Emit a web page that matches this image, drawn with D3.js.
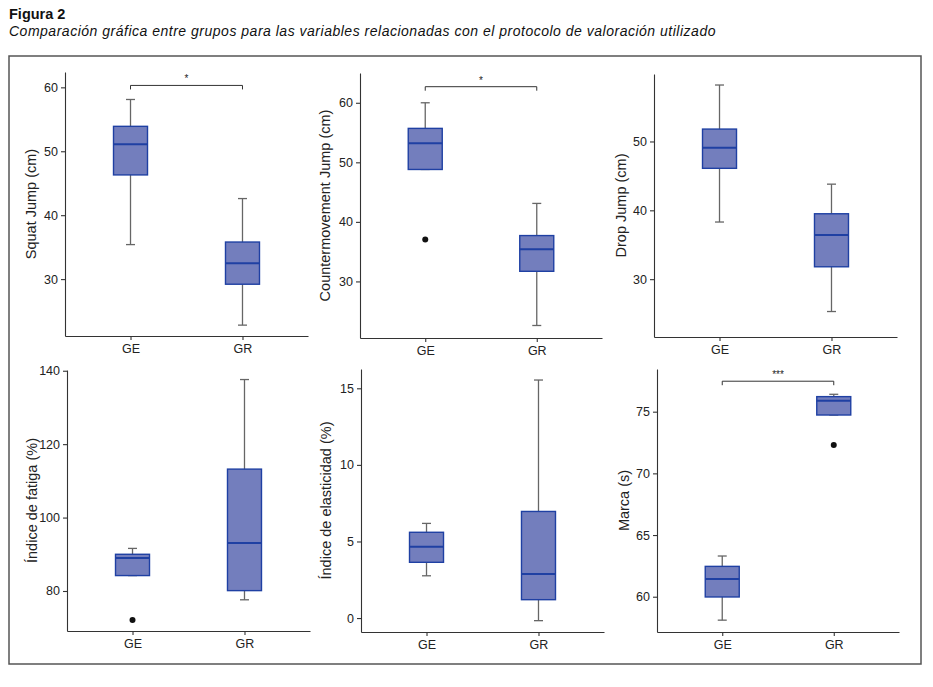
<!DOCTYPE html>
<html><head><meta charset="utf-8">
<script src="https://cdn.jsdelivr.net/npm/d3@7"></script>
<style>
body{margin:0;background:#fff;}
svg{font-family:"Liberation Sans",Arial,Helvetica,sans-serif;}
</style></head>
<body>
<svg id="c" width="933" height="687"></svg>
<script>
// ---- data ----
const groups = ["GE", "GR"];
// [low whisker, Q1, median, Q3, high whisker] per group
const squatJump = [[35.4, 46.3, 51.1, 53.9, 58.1], [22.8, 29.2, 32.5, 35.8, 42.6]];
const cmj = [[48.8, 48.8, 53.2, 55.7, 60.0], [22.6, 31.7, 35.4, 37.7, 43.1]];
const dropJump = [[38.3, 46.1, 49.1, 51.8, 58.2], [25.3, 31.8, 36.4, 39.5, 43.8]];
const fatiga = [[84.2, 84.2, 89.0, 90.0, 91.6], [77.6, 80.1, 93.1, 113.2, 137.6]];
const elasticidad = [[2.76, 3.64, 4.66, 5.6, 6.18], [-0.17, 1.2, 2.87, 6.96, 15.54]];
const marca = [[58.1, 59.98, 61.43, 62.46, 63.3], [74.73, 74.73, 75.89, 76.22, 76.41]];
// outliers: [groupIndex, value]
const cmjOutliers = [[0, 37.05]];
const fatigaOutliers = [[0, 72.1]];
const marcaOutliers = [[1, 72.3]];
const squatTicks = [30, 40, 50, 60];
const cmjTicks = [30, 40, 50, 60];
const dropTicks = [30, 40, 50];
const fatigaTicks = [80, 100, 120, 140];
const elastTicks = [0, 5, 10, 15];
const marcaTicks = [60, 65, 70, 75];
const yLabels = ["Squat Jump (cm)", "Countermovement Jump (cm)", "Drop Jump (cm)",
  "Índice de fatiga (%)", "Índice de elasticidad (%)", "Marca (s)"];
// significance: [value of bracket, label]
const squatSig = [60.3, "*"];
const cmjSig = [62.7, "*"];
const marcaSig = [77.47, "***"];
const titleText = "Figura 2";
const subtitleText = "Comparación gráfica entre grupos para las variables relacionadas con el protocolo de valoración utilizado";

// ---- layout ----
const panels = [
  {stats: squatJump, out: [], ticks: squatTicks, sig: squatSig, domain: [21.1, 62.4], x0: 65, x1: 308, y0: 72, y1: 336, lx: 31},
  {stats: cmj, out: cmjOutliers, ticks: cmjTicks, sig: cmjSig, domain: [20.5, 65.0], x0: 360, x1: 602, y0: 73, y1: 338, lx: 325},
  {stats: dropJump, out: [], ticks: dropTicks, sig: null, domain: [21.6, 59.8], x0: 654, x1: 897, y0: 74, y1: 337, lx: 621},
  {stats: fatiga, out: fatigaOutliers, ticks: fatigaTicks, sig: null, domain: [69.1, 140.2], x0: 67, x1: 310, y0: 370, y1: 631, lx: 32},
  {stats: elasticidad, out: [], ticks: elastTicks, sig: null, domain: [-0.91, 16.26], x0: 361, x1: 604, y0: 369, y1: 632, lx: 326},
  {stats: marca, out: marcaOutliers, ticks: marcaTicks, sig: marcaSig, domain: [57.14, 78.46], x0: 657, x1: 899, y0: 369, y1: 632, lx: 624}
];

const svg = d3.select("#c");
svg.append("text").attr("x", 9).attr("y", 19).attr("font-size", 14.5).attr("font-weight", "bold").attr("fill", "#111").text(titleText);
const sub = svg.append("text").attr("x", 9).attr("y", 35.5).attr("font-size", 14).attr("font-style", "italic").attr("fill", "#111").text(subtitleText);
// stretch letter spacing so the subtitle spans the same width as the reference
const subW = sub.node().getComputedTextLength();
sub.attr("letter-spacing", Math.max(0, (707 - subW) / subtitleText.length));
svg.append("rect").attr("x", 9).attr("y", 56).attr("width", 912).attr("height", 608)
  .attr("fill", "none").attr("stroke", "#555").attr("stroke-width", 1.5);

const boxFill = "#737ebd", boxStroke = "#1f40a3", whisk = "#666";
const boxW = 34, capW = 9;

panels.forEach((p, i) => {
  const x = d3.scalePoint().domain(groups).range([p.x0, p.x1]).padding(0.585);
  const y = d3.scaleLinear().domain(p.domain).range([p.y1, p.y0]);
  const g = svg.append("g");

  // axes
  const ya = g.append("g").attr("transform", `translate(${p.x0},0)`)
    .call(d3.axisLeft(y).tickValues(p.ticks).tickSize(4).tickPadding(3).tickSizeOuter(0));
  const xa = g.append("g").attr("transform", `translate(0,${p.y1})`)
    .call(d3.axisBottom(x).tickSize(4).tickPadding(4).tickSizeOuter(0));
  [ya, xa].forEach(a => {
    a.selectAll("path,line").attr("stroke", "#333").attr("stroke-width", 1.1);
    a.selectAll("text").attr("font-size", 12.5).attr("fill", "#222").attr("font-family", "Liberation Sans, Arial, sans-serif");
  });

  // y label
  g.append("text").attr("transform", `translate(${p.lx},${(p.y0 + p.y1) / 2}) rotate(-90)`)
    .attr("text-anchor", "middle").attr("dy", "0.35em").attr("font-size", 14.5).attr("fill", "#222")
    .text(yLabels[i]);

  // boxes
  p.stats.forEach((s, gi) => {
    const cx = x(groups[gi]);
    g.append("line").attr("x1", cx).attr("x2", cx).attr("y1", y(s[0])).attr("y2", y(s[4]))
      .attr("stroke", whisk).attr("stroke-width", 1.3);
    [s[0], s[4]].forEach(v => g.append("line").attr("x1", cx - capW / 2).attr("x2", cx + capW / 2)
      .attr("y1", y(v)).attr("y2", y(v)).attr("stroke", whisk).attr("stroke-width", 1.3));
    g.append("rect").attr("x", cx - boxW / 2).attr("width", boxW)
      .attr("y", y(s[3])).attr("height", y(s[1]) - y(s[3]))
      .attr("fill", boxFill).attr("stroke", boxStroke).attr("stroke-width", 1.4);
    g.append("line").attr("x1", cx - boxW / 2).attr("x2", cx + boxW / 2)
      .attr("y1", y(s[2])).attr("y2", y(s[2])).attr("stroke", boxStroke).attr("stroke-width", 2);
  });

  // outliers
  p.out.forEach(o => g.append("circle").attr("cx", x(groups[o[0]])).attr("cy", y(o[1])).attr("r", 3).attr("fill", "#111"));

  // significance bracket
  if (p.sig) {
    const by = y(p.sig[0]);
    const xa0 = x(groups[0]), xa1 = x(groups[1]);
    g.append("path").attr("d", `M${xa0},${by + 4}V${by}H${xa1}V${by + 4}`)
      .attr("fill", "none").attr("stroke", "#333").attr("stroke-width", 1);
    g.append("text").attr("x", (xa0 + xa1) / 2).attr("y", by - 3).attr("text-anchor", "middle")
      .attr("font-size", 10).attr("fill", "#222").text(p.sig[1]);
  }
});
</script>
</body></html>
